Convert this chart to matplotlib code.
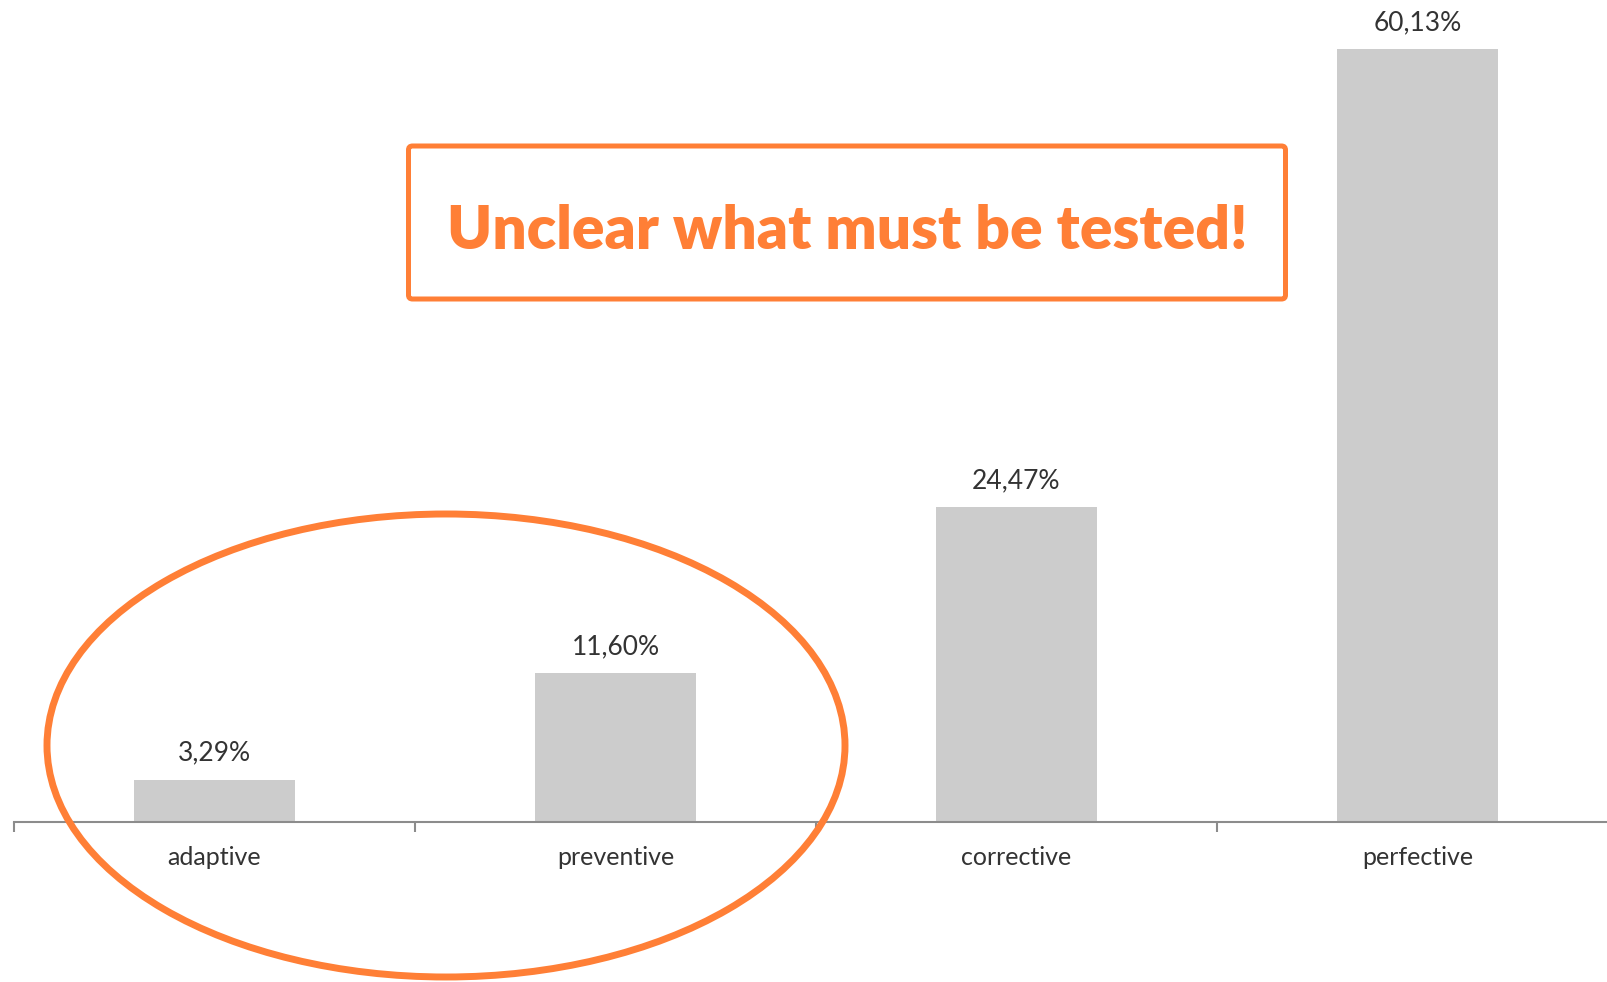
import numpy as np
import matplotlib.pyplot as plt
from matplotlib import font_manager
from matplotlib.patches import Ellipse, FancyBboxPatch

categories = ['adaptive', 'preventive', 'corrective', 'perfective']
shares = [3.29, 11.60, 24.47, 60.13]
share_labels = ['3,29%', '11,60%', '24,47%', '60,13%']
callout = 'Unclear what must be tested!'

W, H = 1608, 982
ORANGE = '#ff7f36'
BAR = '#cccccc'
TXT = '#333333'
AXIS = '#8c8c8c'

plt.rcParams['font.family'] = ['Lato', 'DejaVu Sans']

installed = {f.name for f in font_manager.fontManager.ttflist}
title_font = 'Liberation Sans Narrow' if 'Liberation Sans Narrow' in installed else 'Lato'

fig = plt.figure(figsize=(W / 100, H / 100), dpi=100)

# bar axes: category width ~401 px, axis line at y=822 px from the top
x0 = 14
cat_w = 401
base = 822
px_per_pct = 12.86
ax = fig.add_axes([x0 / W, (H - base) / H, 4 * cat_w / W, base / H])
x = np.arange(len(categories))
ax.bar(x, shares, width=0.4, color=BAR, zorder=2)
ax.set_xlim(-0.5, 3.5)
ax.set_ylim(0, base / px_per_pct)

for xi, v, lab in zip(x, shares, share_labels):
    ax.annotate(lab, (xi, v), xytext=(0, 10), textcoords='offset points',
                ha='center', va='bottom', fontsize=19, color=TXT)

for s in ['top', 'right', 'left']:
    ax.spines[s].set_visible(False)
ax.spines['bottom'].set_color(AXIS)
ax.spines['bottom'].set_linewidth(1.5)
ax.set_yticks([])
ax.set_xticks(x)
ax.set_xticklabels(categories, fontsize=18, color=TXT)
ax.tick_params(axis='x', which='major', length=0, pad=17)
ax.set_xticks(np.arange(-0.5, 4.0, 1.0), minor=True)
ax.tick_params(axis='x', which='minor', length=7, width=1.5, color=AXIS)

# overlay in pixel coordinates for the callout box and the ellipse
ov = fig.add_axes([0, 0, 1, 1])
ov.set_xlim(0, W)
ov.set_ylim(H, 0)
ov.axis('off')
ov.patch.set_alpha(0)

box = FancyBboxPatch((408.5, 146), 877, 153, boxstyle='round,pad=0,rounding_size=4',
                     fill=False, edgecolor=ORANGE, linewidth=3.6)
ov.add_patch(box)
title = ov.text(847, 249, callout, ha='center', va='baseline', fontsize=54,
                fontweight='heavy', color=ORANGE, family=title_font)
# fit the callout to the width it has in the picture (~801 px)
r = fig.canvas.get_renderer()
tw = title.get_window_extent(renderer=r).width
title.set_fontsize(54 * 801 / tw)

ring = Ellipse((446, 745.5), 798, 463, fill=False, edgecolor=ORANGE, linewidth=5)
ov.add_patch(ring)

fig.savefig('out.png', dpi=100, facecolor='white')
